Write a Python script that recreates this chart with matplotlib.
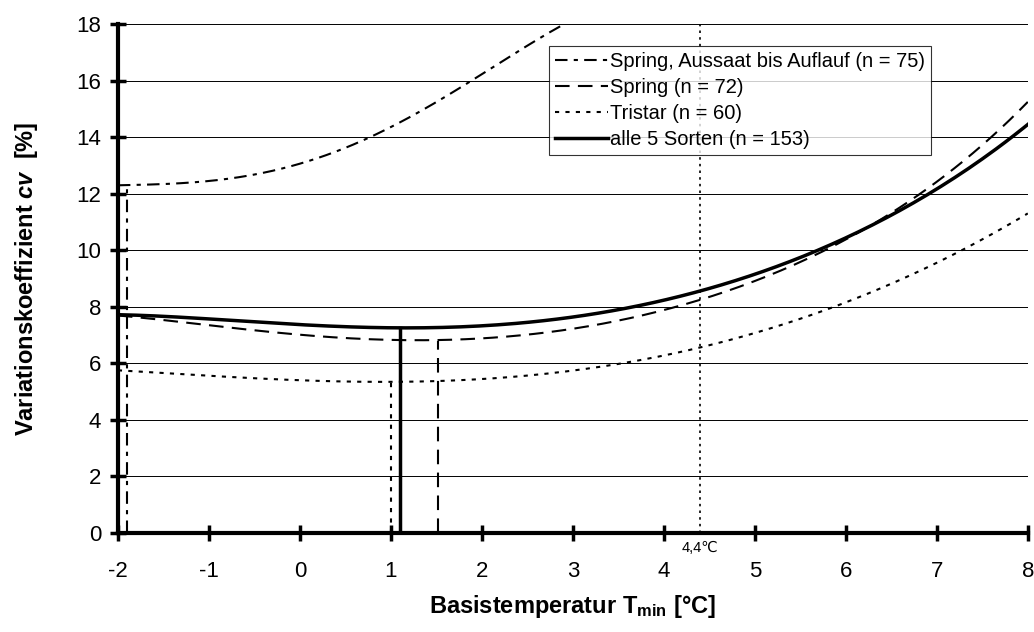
import matplotlib
matplotlib.use('Agg')
import matplotlib.pyplot as plt
import numpy as np

plt.rcParams['font.family'] = ['Liberation Sans', 'DejaVu Sans']
plt.rcParams['axes.unicode_minus'] = False
plt.rcParams['mathtext.fontset'] = 'custom'
plt.rcParams['mathtext.rm'] = 'Liberation Sans:bold'
plt.rcParams['mathtext.it'] = 'Liberation Sans:italic:bold'
plt.rcParams['mathtext.bf'] = 'Liberation Sans:bold'

# Basistemperatur (x) and Variationskoeffizient cv for each group
t_auflauf = [-2, -1.5, -1, -0.5, 0, 0.5, 1, 1.5, 2, 2.5, 2.9]
cv_auflauf = [12.3, 12.32, 12.45, 12.7, 13.05, 13.6, 14.35, 15.25, 16.25, 17.2, 18.0]

t_spring = [-2, -1, 0, 1, 1.5, 2, 3, 4, 4.4, 5, 6, 7, 8]
cv_spring = [7.7, 7.3, 7.05, 6.85, 6.8, 6.85, 7.2, 7.95, 8.2, 8.9, 10.4, 12.4, 15.25]

t_tristar = [-2, -1, 0, 1, 2, 3, 4, 4.4, 5, 6, 7, 8]
cv_tristar = [5.75, 5.55, 5.4, 5.35, 5.42, 5.75, 6.3, 6.5, 7.1, 8.15, 9.55, 11.3]

t_alle = [-2, -1, 0, 1, 1.1, 2, 3, 4, 4.4, 5, 6, 7, 8]
cv_alle = [7.72, 7.55, 7.38, 7.26, 7.25, 7.3, 7.65, 8.22, 8.55, 9.15, 10.45, 12.15, 14.45]

# minima (optimal base temperature) for each group
opt_t = [-1.9, 1.52, 1.0, 1.1]
opt_cv = [12.3, 6.8, 5.35, 7.25]

labels = ['Spring, Aussaat bis Auflauf (n = 75)', 'Spring (n = 72)',
          'Tristar (n = 60)', 'alle 5 Sorten (n = 153)']

def smooth(x, y):
    xs = np.linspace(x[0], x[-1], 200)
    cs = np.polyfit(x, y, 5)
    return xs, np.polyval(cs, xs)

fig, ax = plt.subplots(figsize=(10.34, 6.32), dpi=100)
fig.subplots_adjust(left=0.114, right=0.994, bottom=0.157, top=0.962)

styles = [dict(lw=1.5, ls=(0, (6, 3, 2, 3))),
          dict(lw=1.5, ls=(0, (7, 4))),
          dict(lw=1.5, ls=(0, (2, 3))),
          dict(lw=2.5, ls='-')]

data = [(t_auflauf, cv_auflauf), (t_spring, cv_spring),
        (t_tristar, cv_tristar), (t_alle, cv_alle)]

for (x, y), st, lab in zip(data, styles, labels):
    xs, ys = smooth(x, y)
    ax.plot(xs, ys, color='black', label=lab, **st)

for xo, yo, st in zip(opt_t, opt_cv, styles):
    ax.plot([xo, xo], [0, yo], color='black', **st)

ax.axvline(4.4, color='black', lw=1.2, ls=(0, (1.5, 2.5)))
ax.text(4.4, -0.3, '4,4\u2103', ha='center', va='top', fontsize=10.5)

ax.set_xlim(-2, 8)
ax.set_ylim(0, 18)
ax.set_xticks(range(-2, 9))
ax.set_yticks(range(0, 19, 2))
ax.yaxis.grid(True, color='black', lw=0.7)
ax.tick_params(direction='inout', length=12, width=2.5, labelsize=16)
ax.tick_params(axis='x', pad=14)
ax.tick_params(axis='y', pad=6)
for s in ['top', 'right']:
    ax.spines[s].set_visible(False)
for s in ['left', 'bottom']:
    ax.spines[s].set_linewidth(3)

ax.set_xlabel('Basistemperatur $\\mathrm{T_{min}}$ [°C]', fontsize=17, fontweight='bold', labelpad=8)
ax.set_ylabel('Variationskoeffizient $\\mathit{cv}$  [%]', fontsize=17, fontweight='bold', labelpad=26)

leg = ax.legend(loc='upper left', bbox_to_anchor=(0.474, 0.957), fontsize=14.5, frameon=True,
                fancybox=False, edgecolor='black', handlelength=2.6, handletextpad=0.1,
                labelspacing=0.35, borderpad=0.3, borderaxespad=0)
leg.get_frame().set_linewidth(0.8)

fig.savefig('out.png', dpi=100)
